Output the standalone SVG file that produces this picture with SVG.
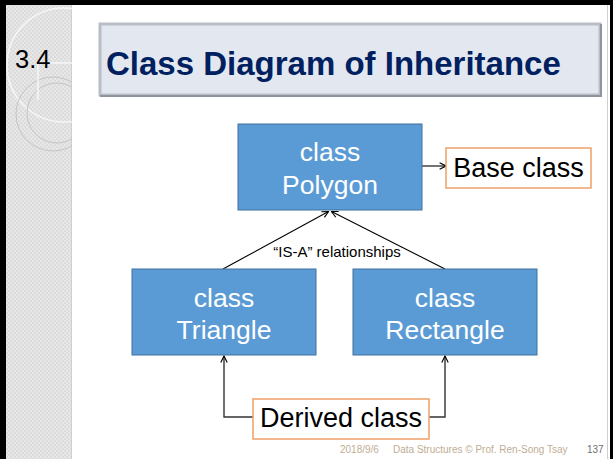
<svg xmlns="http://www.w3.org/2000/svg" width="613" height="459" viewBox="0 0 613 459">
<defs>
<style>
.box{fill:#5b9bd5;stroke:#41719c;stroke-width:1}
.btxt{font-family:"Liberation Sans",Arial,sans-serif;font-size:26.5px;fill:#ffffff;text-anchor:middle}
.obox{fill:#ffffff;stroke:#f0a06a;stroke-width:1.5}
.otxt{font-family:"Liberation Sans",Arial,sans-serif;font-size:27px;fill:#000000;text-anchor:middle}
.conn{fill:none;stroke:#000000;stroke-width:1.1}
.conn2{fill:none;stroke:#333333;stroke-width:1.4}
.foot{font-family:"Liberation Sans",Arial,sans-serif;font-size:10px;fill:#c0ad94}
.deco{fill:none;stroke:#f6f6f6;stroke-width:1.6}
.deco2{fill:none;stroke:#c4c4c4;stroke-width:1}
</style>
<pattern id="hatch" width="4" height="4" patternUnits="userSpaceOnUse">
<rect width="4" height="4" fill="#dcdcdc"/>
<rect width="2" height="2" fill="#e7e7e7"/>
<rect x="2" y="2" width="2" height="2" fill="#e7e7e7"/>
</pattern>
<clipPath id="strip"><rect x="6" y="5" width="66" height="454"/></clipPath>
<marker id="arr" viewBox="0 0 10 10" refX="9" refY="5" markerWidth="8" markerHeight="8" markerUnits="userSpaceOnUse" orient="auto">
<path d="M1,1 L9,5 L1,9" fill="none" stroke="#000000" stroke-width="1.4"/>
</marker>
</defs>
<rect x="0" y="0" width="613" height="459" fill="#ffffff"/>
<g id="background">
<rect x="6" y="5" width="66" height="454" fill="url(#hatch)"/>
<line x1="71.5" y1="5" x2="71.5" y2="459" stroke="#cfcfcf" stroke-width="1"/>
<g clip-path="url(#strip)">
<circle cx="64" cy="65" r="57" class="deco"/>
<circle cx="53" cy="114" r="37" class="deco2"/>
<circle cx="57" cy="113" r="30" class="deco2"/>
<path d="M38,100 L38,63 L72,63" class="deco"/>
</g>
<rect x="0" y="0" width="613" height="5" fill="#000000"/>
<rect x="0" y="0" width="6" height="459" fill="#000000"/>
<rect x="610" y="0" width="3" height="459" fill="#000000"/>
<line x1="607.5" y1="5" x2="607.5" y2="459" stroke="#d0d0d0" stroke-width="1"/>
<text x="15" y="68" font-family="'Liberation Sans',Arial,sans-serif" font-size="25.5" fill="#000000">3.4</text>
</g>
<g id="title">
<rect x="100" y="24" width="500" height="71" fill="#e3e8f0" stroke="#b9bec6" stroke-width="3"/>
<path d="M601,24 L601,96 L100,96" fill="none" stroke="#8e949b" stroke-width="2"/>
<text x="106" y="75" font-family="'Liberation Sans',Arial,sans-serif" font-size="33" font-weight="bold" fill="#002060">Class Diagram of Inheritance</text>
</g>
<g id="connectors">
<line x1="422" y1="166" x2="446" y2="166" class="conn" marker-end="url(#arr)"/>
<line x1="223" y1="269" x2="328.5" y2="211.5" class="conn" marker-end="url(#arr)"/>
<line x1="445" y1="269" x2="331.5" y2="211.5" class="conn" marker-end="url(#arr)"/>
<text x="337" y="257" font-family="'Liberation Sans',Arial,sans-serif" font-size="15" fill="#000000" text-anchor="middle">“IS-A” relationships</text>
<path d="M253,417 L224,417 L224,356" class="conn2" marker-end="url(#arr)"/>
<path d="M429,417 L445,417 L445,356" class="conn2" marker-end="url(#arr)"/>
</g>
<g id="polygon">
<rect x="238" y="124" width="184" height="86" class="box"/>
<text x="330" y="161" class="btxt">class</text>
<text x="330" y="194" class="btxt">Polygon</text>
</g>
<g id="triangle">
<rect x="132" y="269" width="184" height="86" class="box"/>
<text x="224" y="306.5" class="btxt">class</text>
<text x="224" y="338.5" class="btxt">Triangle</text>
</g>
<g id="rectangle">
<rect x="353" y="269" width="184" height="86" class="box"/>
<text x="445" y="306.5" class="btxt">class</text>
<text x="445" y="338.5" class="btxt">Rectangle</text>
</g>
<g id="base-class">
<rect x="446" y="148" width="145" height="40" class="obox"/>
<text x="518.5" y="177" class="otxt">Base class</text>
</g>
<g id="derived-class">
<rect x="253" y="399" width="176" height="40" class="obox"/>
<text x="341" y="427" class="otxt">Derived class</text>
</g>
<g id="footer">
<text x="340" y="453" class="foot">2018/9/6</text>
<text x="393" y="453" class="foot">Data Structures © Prof. Ren-Song Tsay</text>
<text x="587" y="453" class="foot" style="fill:#6f6f6f">137</text>
</g>
</svg>
